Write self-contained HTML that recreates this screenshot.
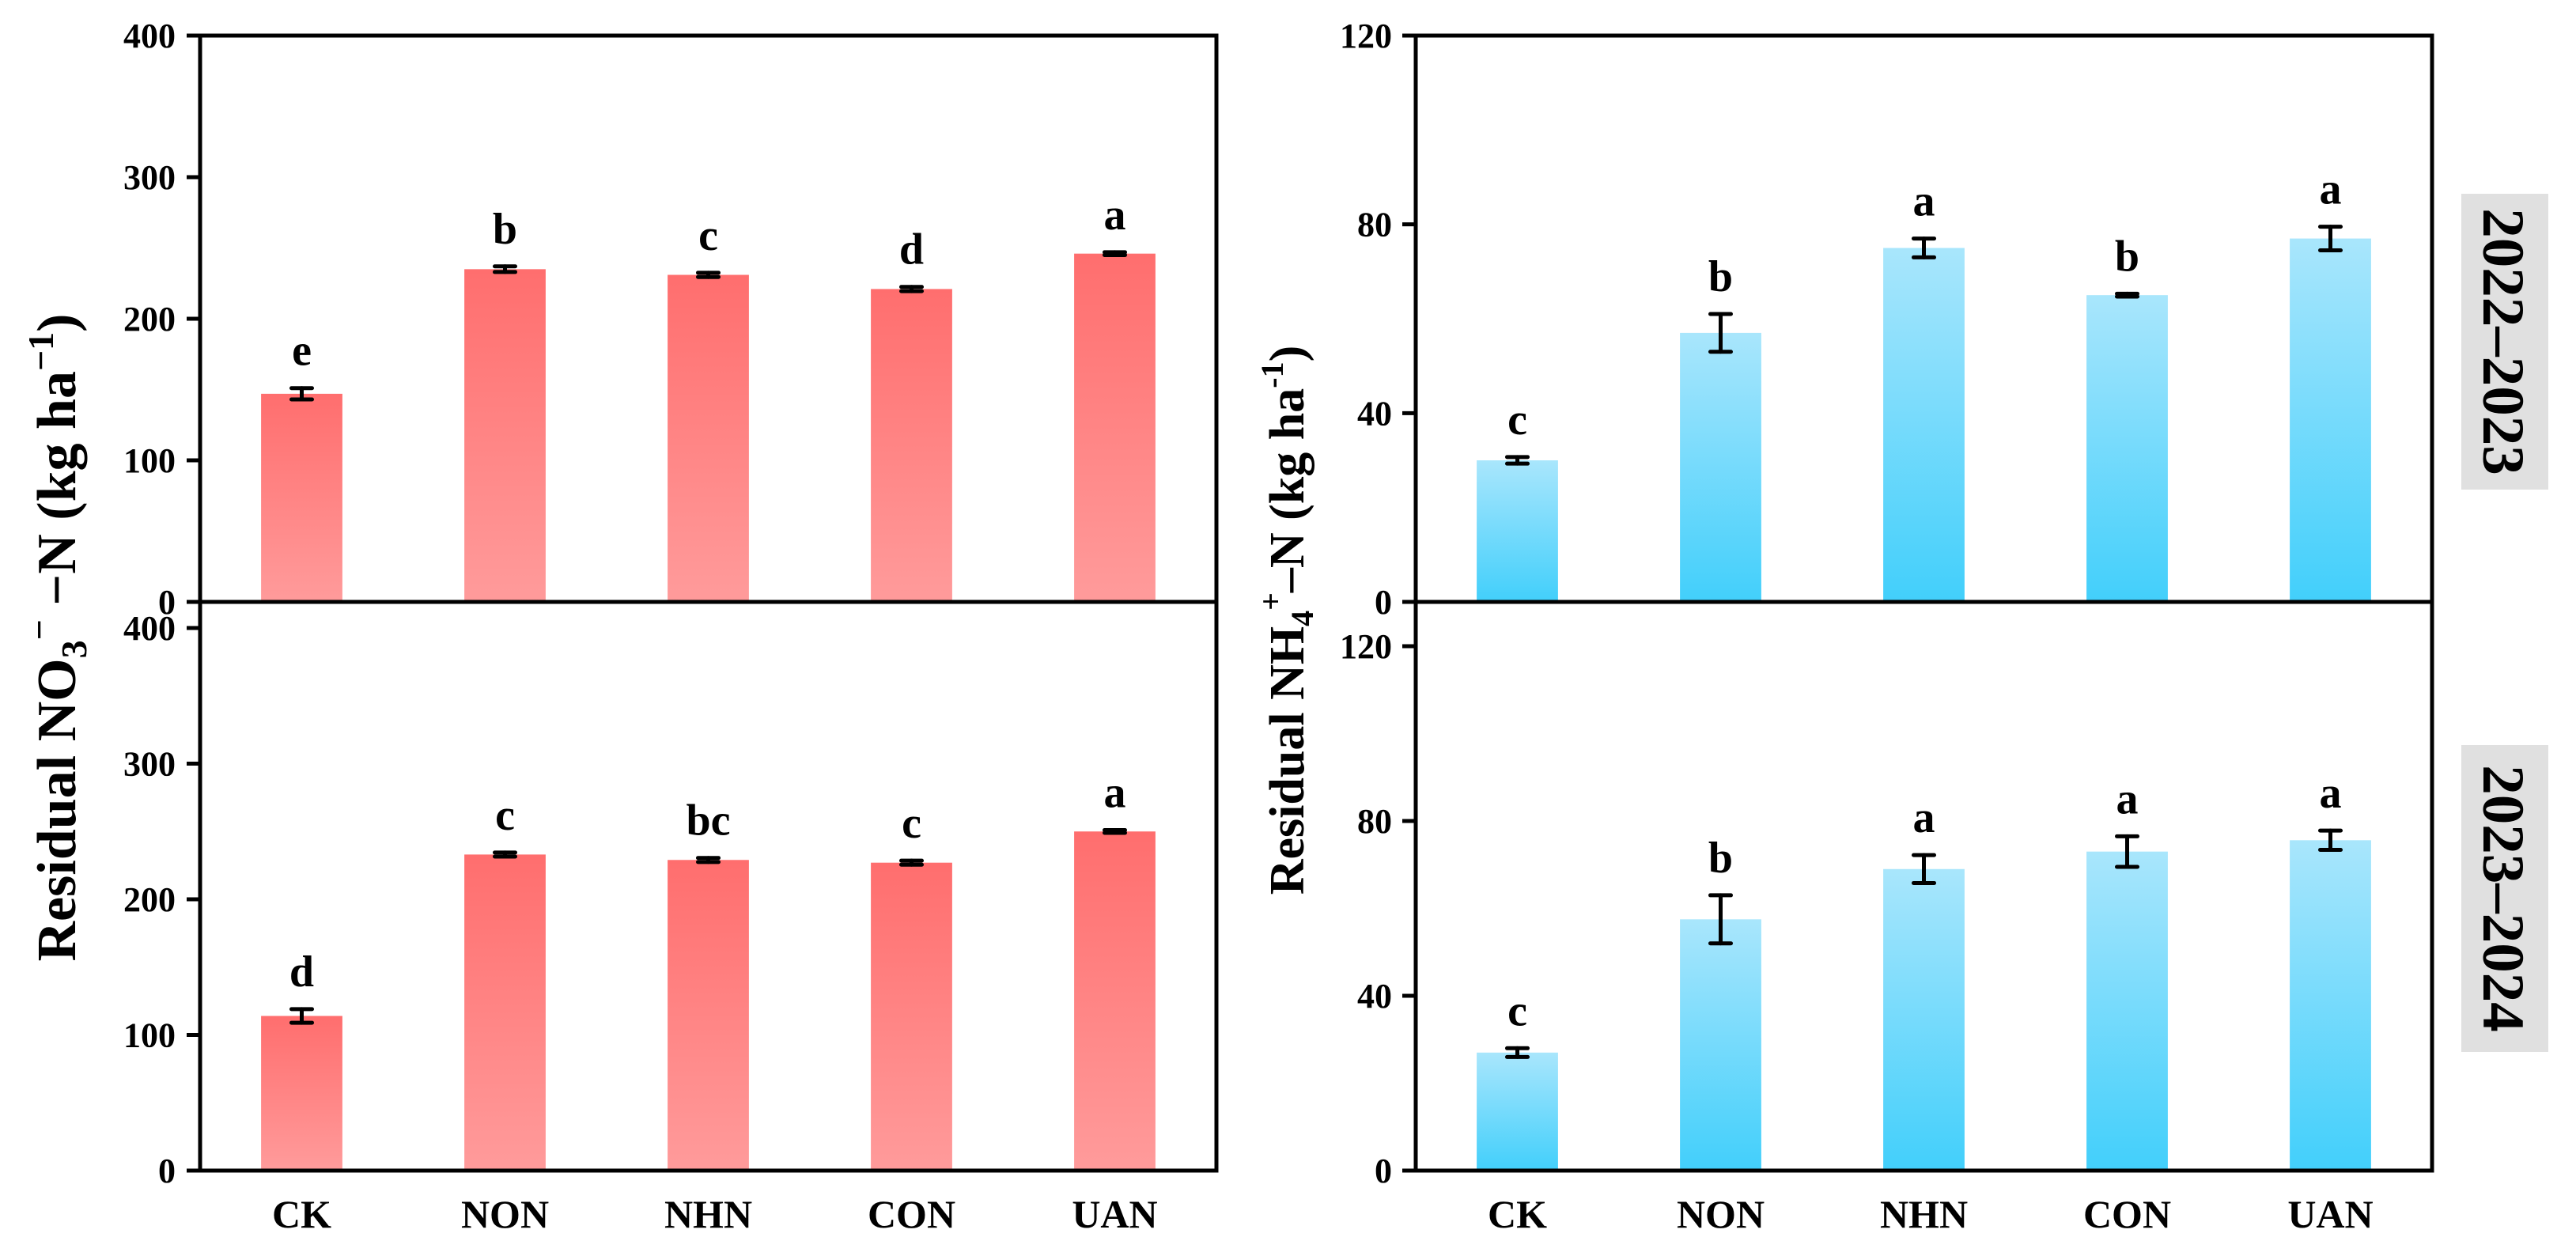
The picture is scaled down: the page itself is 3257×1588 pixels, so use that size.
<!DOCTYPE html>
<html><head><meta charset="utf-8"><style>
html,body{margin:0;padding:0;background:#fff;}
svg{display:block;font-family:"Liberation Serif",serif;font-weight:bold;}
</style></head><body>
<svg id="chart" width="3257" height="1588" viewBox="0 0 3257 1588" xmlns="http://www.w3.org/2000/svg">
<defs>
<linearGradient id="red" x1="0" y1="0" x2="0" y2="1"><stop offset="0" stop-color="#ff6e6e"/><stop offset="1" stop-color="#ff9b9b"/></linearGradient>
<linearGradient id="blue" x1="0" y1="0" x2="0" y2="1"><stop offset="0" stop-color="#a9e6fc"/><stop offset="1" stop-color="#42cffb"/></linearGradient>
</defs>
<g id="marks"></g>
<g id="frames"></g>
<text transform="translate(95,806) rotate(-90)" text-anchor="middle" font-size="70">Residual NO<tspan font-size="46" dy="14">3</tspan><tspan font-size="46" dy="-44">−</tspan><tspan dy="30"> −N (kg ha</tspan><tspan font-size="46" dy="-28">−1</tspan><tspan dy="28">)</tspan></text>
<text transform="translate(1648,784) rotate(-90)" text-anchor="middle" font-size="62">Residual NH<tspan font-size="40" dy="12">4</tspan><tspan font-size="40" dy="-40">+</tspan><tspan dy="28">–N (kg ha</tspan><tspan font-size="40" dy="-26">-1</tspan><tspan dy="26">)</tspan></text>
<rect x="3112" y="245" width="110" height="374" fill="#e0e0e0"/>
<text transform="translate(3140,432) rotate(90)" text-anchor="middle" font-size="75">2022–2023</text>
<rect x="3112" y="942" width="110" height="388" fill="#e0e0e0"/>
<text transform="translate(3140,1136) rotate(90)" text-anchor="middle" font-size="75">2023–2024</text>
</svg>
<script>
const categories = ["CK","NON","NHN","CON","UAN"];
const no3_2022 = [147,235,231,221,246];
const no3_2022_err = [4,2,1.5,1.5,1];
const no3_2022_sig = ["e","b","c","d","a"];
const no3_2023 = [114,233,229,227,250];
const no3_2023_err = [5,1.5,1.5,1.5,1];
const no3_2023_sig = ["d","c","bc","c","a"];
const nh4_2022 = [30,57,75,65,77];
const nh4_2022_err = [0.7,4,2,0.3,2.5];
const nh4_2022_sig = ["c","b","a","b","a"];
const nh4_2023 = [27,57.5,69,73,75.6];
const nh4_2023_err = [1,5.5,3.2,3.5,2.2];
const nh4_2023_sig = ["c","b","a","a","a"];
const no3Ticks = [0,100,200,300,400];
const nh4Ticks = [0,40,80,120];

const NS="http://www.w3.org/2000/svg";
const marks=document.getElementById('marks');
const frames=document.getElementById('frames');
function mk(tag,attrs,parent){const e=document.createElementNS(NS,tag);for(const k in attrs)e.setAttribute(k,attrs[k]);(parent||marks).appendChild(e);return e;}

function panel(id,x0,x1,yZero,yRefPx,refVal,vals,errs,sigs,ticks,fill,labelRight){
  const y=v=>yZero-(v/refVal)*(yZero-yRefPx);
  const step=(x1-x0)/categories.length;
  const xc=i=>x0+step*(i+0.5);
  const bw=step*0.4;
  vals.forEach((v,i)=>{
    const r=mk('rect',{x:xc(i)-bw/2,y:y(v),width:bw,height:yZero-y(v),fill:fill});
    
    
    const g=mk('g',{stroke:'#000','stroke-width':5,'stroke-linecap':'round'});
    
    
    const t=y(v+errs[i]),b=y(v-errs[i]);
    mk('line',{x1:xc(i),x2:xc(i),y1:t,y2:b},g);
    mk('line',{x1:xc(i)-13,x2:xc(i)+13,y1:t,y2:t},g);
    mk('line',{x1:xc(i)-13,x2:xc(i)+13,y1:b,y2:b},g);
    const s=mk('text',{x:xc(i),y:t-29,'text-anchor':'middle','font-size':56});
    s.textContent=sigs[i];
    
    
  });
  ticks.forEach(tv=>{
    mk('line',{x1:x0-17,x2:x0,y1:y(tv),y2:y(tv),stroke:'#000','stroke-width':5},frames);
    const tl=mk('text',{x:labelRight,y:y(tv)+15,'text-anchor':'end','font-size':44},frames);
    tl.textContent=tv;
    
    
  });
}
panel('no3-2022',253,1538,761,45,400,no3_2022,no3_2022_err,no3_2022_sig,no3Ticks,'url(#red)',222);
panel('no3-2023',253,1538,1480,794,400,no3_2023,no3_2023_err,no3_2023_sig,no3Ticks,'url(#red)',222);
panel('nh4-2022',1790,3075,761,45,120,nh4_2022,nh4_2022_err,nh4_2022_sig,nh4Ticks,'url(#blue)',1760);
panel('nh4-2023',1790,3075,1480,817,120,nh4_2023,nh4_2023_err,nh4_2023_sig,nh4Ticks,'url(#blue)',1760);

[[253,1538,'no3'],[1790,3075,'nh4']].forEach(([a,b,n])=>{
  const f=mk('rect',{x:a,y:45,width:b-a,height:1435,fill:'none',stroke:'#000','stroke-width':5},frames);
  
  
  const m=mk('line',{x1:a,x2:b,y1:761,y2:761,stroke:'#000','stroke-width':5},frames);
  
  
  const step=(b-a)/categories.length;
  categories.forEach((c,i)=>{
    const t=mk('text',{x:a+step*(i+0.5),y:1552,'text-anchor':'middle','font-size':50},frames);
    t.textContent=c;
    
    
  });
});
</script>
</body></html>
